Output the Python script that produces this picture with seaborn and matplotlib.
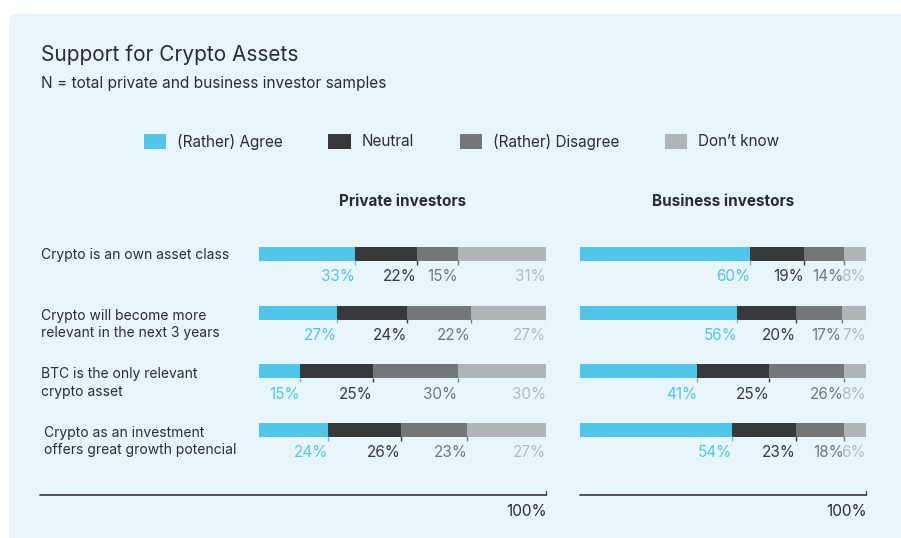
import matplotlib
matplotlib.use("Agg")
import matplotlib.pyplot as plt
import seaborn as sns
import numpy as np
import pandas as pd
from matplotlib.patches import FancyBboxPatch, Patch
from matplotlib.lines import Line2D
from matplotlib import transforms

# ---------------- data ----------------
statements = [
    "Crypto is an own asset class",
    "Crypto will become more\nrelevant in the next 3 years",
    "BTC is the only relevant\ncrypto asset",
    "Crypto as an investment\noffers great growth potencial",
]
categories = ["(Rather) Agree", "Neutral", "(Rather) Disagree", "Don’t know"]
groups = ["Private investors", "Business investors"]

# printed labels (%)
private_agree = [33, 27, 15, 24]
private_neutral = [22, 24, 25, 26]
private_disagree = [15, 22, 30, 23]
private_dontknow = [31, 27, 30, 27]

business_agree = [60, 56, 41, 54]
business_neutral = [19, 20, 25, 23]
business_disagree = [14, 17, 26, 18]
business_dontknow = [8, 7, 8, 6]

# bar lengths as drawn (share of the bar, %)
private_agree_bar = [33.4, 27.2, 14.3, 24.1]
private_neutral_bar = [21.5, 24.3, 25.3, 25.4]
private_disagree_bar = [14.3, 22.4, 29.6, 23.1]
private_dontknow_bar = [30.8, 26.1, 30.8, 27.4]

business_agree_bar = [59.5, 54.9, 41.0, 53.1]
business_neutral_bar = [18.7, 20.5, 25.2, 22.4]
business_disagree_bar = [14.0, 16.1, 26.0, 16.7]
business_dontknow_bar = [7.8, 8.5, 7.8, 7.8]

axis_label = "100%"

# ---------------- style ----------------
colors = ["#52c6ea", "#373a3d", "#72787a", "#adb5b9"]
label_colors = ["#52c6ea", "#373a3d", "#72787a", "#b3bbbf"]
bg = "#e8f6fc"
txt = "#2a2d30"

sns.set_theme(style="white")
plt.rcParams["font.family"] = ["Inter", "DejaVu Sans"]

W, H = 901, 538
fig = plt.figure(figsize=(W / 100, H / 100), dpi=100)
fig.patch.set_facecolor("white")


def fx(x):
    return x / W


def fy(y):
    return 1 - y / H


# background panel (pixel coordinates)
panel = FancyBboxPatch((9, -20), 920, H - 14 + 20,
                       boxstyle="round,pad=0,rounding_size=7",
                       transform=transforms.IdentityTransform(),
                       fc=bg, ec="none", zorder=-10)
fig.add_artist(panel)

# titles
fig.text(fx(41), fy(55), "Support for Crypto Assets", fontsize=15, color=txt,
         ha="left", va="center")
fig.text(fx(41), fy(83.5), "N = total private and business investor samples",
         fontsize=11.1, color=txt, ha="left", va="center")

# legend
handles = [Patch(facecolor=c, edgecolor="none", label=l) for c, l in zip(colors, categories)]
fig.legend(handles=handles, loc="center", bbox_to_anchor=(fx(461.5), fy(141.5)),
           ncol=4, frameon=False, fontsize=11, handlelength=1.45, handleheight=1.1,
           handletextpad=0.72, columnspacing=3.0, labelcolor=txt)

# panels
row_px = 58.67
bar_w = 14 / row_px
top_px = 254 - row_px / 2
bot_px = 430 + row_px / 2
panels = [
    (groups[0], 259, 546,
     [private_agree, private_neutral, private_disagree, private_dontknow],
     [private_agree_bar, private_neutral_bar, private_disagree_bar, private_dontknow_bar]),
    (groups[1], 580, 866,
     [business_agree, business_neutral, business_disagree, business_dontknow],
     [business_agree_bar, business_neutral_bar, business_disagree_bar, business_dontknow_bar]),
]

axes = []
for name, x0, x1, labels, lengths in panels:
    ax = fig.add_axes([fx(x0), fy(bot_px), (x1 - x0) / W, (bot_px - top_px) / H])
    ax.set_facecolor("none")
    vals = np.array(labels).T  # rows x categories
    share = np.array(lengths, dtype=float).T
    share = share / share.sum(axis=1, keepdims=True) * 100
    cum = share.cumsum(axis=1)
    for j in reversed(range(len(categories))):
        sns.barplot(x=cum[:, j], y=statements, order=statements, color=colors[j],
                    saturation=1, width=bar_w, orient="h", ax=ax, errorbar=None,
                    linewidth=0)
    n = len(statements)
    for i in range(n):
        for j in range(len(categories)):
            ax.vlines(cum[i, j], i + bar_w / 2 - 0.01, i + bar_w / 2 + 0.065,
                      color=colors[j], lw=1.0, zorder=5)
            ax.text(cum[i, j], i + 0.39, f"{int(vals[i, j])}%", ha="right",
                    va="center", fontsize=11, color=label_colors[j])
    ax.set_xlim(0, 100)
    ax.set_ylim(n - 0.5, -0.5)
    ax.axis("off")
    ax.text(50, -0.5 - (254 - 201.5 - row_px / 2) / row_px, name, ha="center",
            va="center", fontsize=11, fontweight="bold", color=txt,
            transform=ax.transData)
    axes.append(ax)

# category labels
label_x = [41, 41, 41, 44]
tr = transforms.blended_transform_factory(fig.transFigure, axes[0].transData)
for i, s in enumerate(statements):
    nl = s.count("\n")
    axes[0].text(fx(label_x[i]), i + 0.02 + nl * 10.5 / row_px, s, transform=tr,
                 ha="left", va="center", fontsize=10, color=txt, linespacing=1.32)

# baselines with "100%"
for xs, xe in [(40, 546), (580, 866)]:
    fig.add_artist(Line2D([fx(xs), fx(xe)], [fy(495), fy(495)],
                          transform=fig.transFigure, color="#45484b", lw=1.3))
    fig.add_artist(Line2D([fx(xe), fx(xe)], [fy(495), fy(491)],
                          transform=fig.transFigure, color="#45484b", lw=1.0))
    fig.text(fx(xe + 1), fy(511.5), axis_label, ha="right", va="center",
             fontsize=11, color=txt)

fig.savefig("out.png", dpi=100)
